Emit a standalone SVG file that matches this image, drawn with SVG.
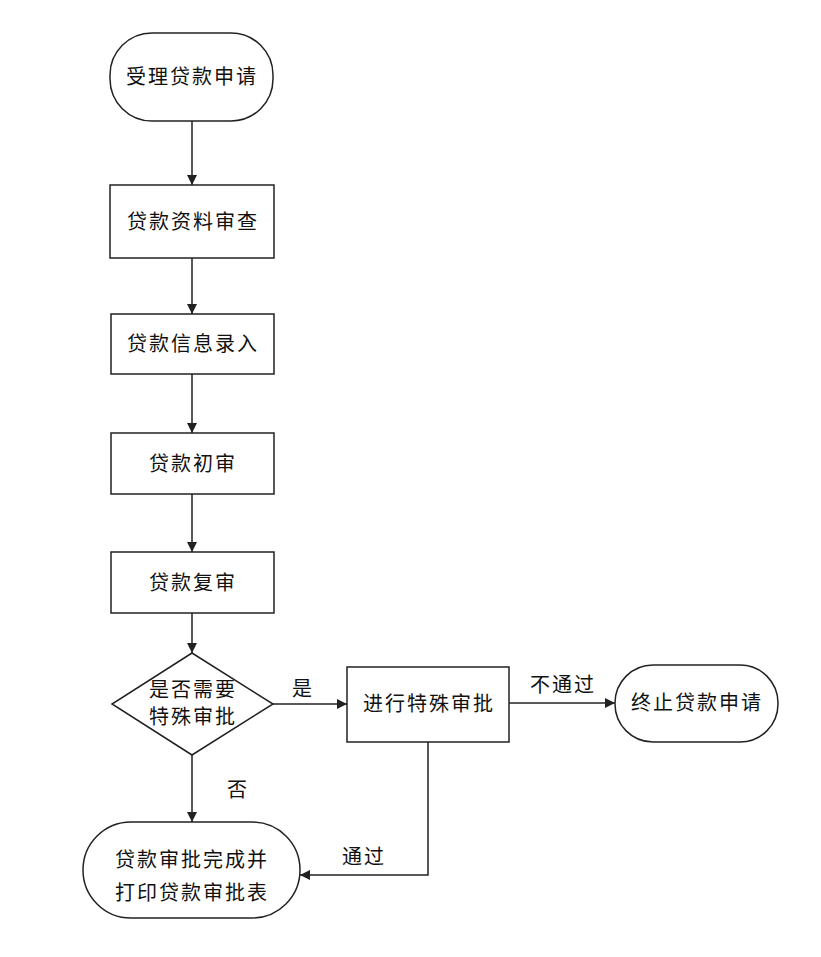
<svg xmlns="http://www.w3.org/2000/svg" width="821" height="957" viewBox="0 0 821 957">
<style>
.s{fill:#fff;stroke:#222;stroke-width:1.5}
.c{fill:none;stroke:#222;stroke-width:1.5}
.t{font-family:"Liberation Sans","Noto Sans CJK SC",sans-serif;font-size:20px;fill:#111;text-anchor:middle;letter-spacing:2px}
</style>
<defs>
<marker id="a" viewBox="0 0 10 10" refX="10" refY="5" markerWidth="10" markerHeight="10" markerUnits="userSpaceOnUse" orient="auto">
<path d="M0,0 L10,5 L0,10 Z" fill="#222"/>
</marker>
</defs>
<rect width="821" height="957" fill="#fff"/>
<g id="connectors">
<line class="c" x1="192" y1="121" x2="192" y2="185" marker-end="url(#a)"/>
<line class="c" x1="192" y1="258" x2="192" y2="314" marker-end="url(#a)"/>
<line class="c" x1="192" y1="374" x2="192" y2="433" marker-end="url(#a)"/>
<line class="c" x1="192" y1="494" x2="192" y2="552" marker-end="url(#a)"/>
<line class="c" x1="192" y1="613" x2="192" y2="653" marker-end="url(#a)"/>
<line class="c" x1="192" y1="755" x2="192" y2="822" marker-end="url(#a)"/>
<line class="c" x1="273" y1="704" x2="347" y2="704" marker-end="url(#a)"/>
<line class="c" x1="509" y1="703" x2="615" y2="703" marker-end="url(#a)"/>
<polyline class="c" points="428,742 428,875 300,875" marker-end="url(#a)"/>
<text class="t" x="303" y="696">是</text>
<text class="t" x="563" y="692">不通过</text>
<text class="t" x="238" y="797">否</text>
<text class="t" x="364" y="864">通过</text>
</g>
<g id="start">
<rect class="s" x="110" y="33" width="163" height="88" rx="42" ry="42"/>
<text class="t" x="192" y="84">受理贷款申请</text>
</g>
<g id="review">
<rect class="s" x="110" y="185" width="164" height="73"/>
<text class="t" x="193" y="229">贷款资料审查</text>
</g>
<g id="entry">
<rect class="s" x="111" y="314" width="163" height="60"/>
<text class="t" x="193" y="351">贷款信息录入</text>
</g>
<g id="first">
<rect class="s" x="111" y="433" width="163" height="61"/>
<text class="t" x="193" y="471">贷款初审</text>
</g>
<g id="second">
<rect class="s" x="111" y="552" width="163" height="61"/>
<text class="t" x="193" y="590">贷款复审</text>
</g>
<g id="decision">
<polygon class="s" points="192,653 273,704 192,755 112,704"/>
<text class="t" x="193" y="697">是否需要</text>
<text class="t" x="193" y="724">特殊审批</text>
</g>
<g id="special">
<rect class="s" x="347" y="667" width="162" height="75"/>
<text class="t" x="429" y="711">进行特殊审批</text>
</g>
<g id="terminate">
<rect class="s" x="615" y="665" width="163" height="77" rx="38" ry="38"/>
<text class="t" x="697" y="710">终止贷款申请</text>
</g>
<g id="finish">
<rect class="s" x="83" y="822" width="217" height="96" rx="48" ry="48"/>
<text class="t" x="192" y="867">贷款审批完成并</text>
<text class="t" x="192" y="900">打印贷款审批表</text>
</g>
</svg>
